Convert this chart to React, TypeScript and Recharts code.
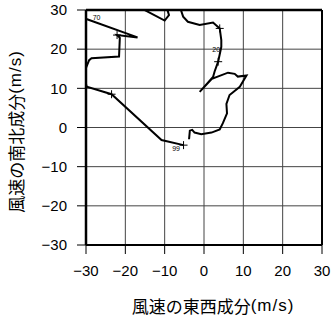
import React from 'react';
import { LineChart, Line, XAxis, YAxis, CartesianGrid, ReferenceDot, Label } from 'recharts';

// hodograph: east-west (u) and north-south (v) wind components, surface upward
const windU = [
  -5.2, -10.8, -23.5, -29.8, -30.4, -30.0, -29.2, -28.6, -21.6, -21.4, -22.1, -16.9, -29.9, -31.0,
  -31.0, -17.0, -10.0, -8.9, -9.6, -6.2, -5.3, -4.1, -1.1, 2.3, 4.0, 4.4, 4.4, 3.6, 2.7, 2.3,
  -1.1, 2.0, 6.1, 7.8, 8.6, 10.8, 9.1, 6.5, 5.7, 5.85, 4.8, 4.0, 1.9, -0.7, -2.4, -3.0, -3.6, -3.8,
];
const windV = [
  -4.5, -3.2, 8.5, 10.4, 12.5, 15.2, 17.2, 17.7, 18.1, 22.9, 23.6, 23.0, 27.7, 28.2,
  31.0, 31.0, 27.3, 28.7, 31.0, 31.0, 28.3, 27.0, 26.2, 26.8, 25.3, 22.3, 20.6, 16.8, 14.3, 12.9,
  9.1, 12.4, 14.0, 13.7, 13.0, 13.3, 10.4, 8.3, 6.0, 3.6, 1.1, -0.5, -1.3, -1.7, -1.3, -0.6, -0.8, -3.0,
];
// indices of points drawn with a "+" marker
const markedPoints = [0, 2, 10, 24, 27];

// pressure level labels (x10 hPa)
const levelNames = ['99', '70', '20'];
const levelU = [-7.1, -27.3, 3.1];
const levelV = [-5.4, 28.0, 19.8];

const axisTicks = [-30, -20, -10, 0, 10, 20, 30];

const data = windU.map((u, i) => ({ u, v: windV[i], mark: markedPoints.includes(i) }));

const fmt = (v: number) => (v < 0 ? `\u2212${Math.abs(v)}` : `${v}`);
const tickFont = { fontSize: 15, fill: '#000', fontFamily: 'Liberation Sans, Arial, sans-serif' };
const cjk = '"Noto Sans CJK JP", sans-serif';

const renderMark = (props: any) => {
  const { cx, cy, payload, index } = props;
  if (!payload.mark) return <g key={`m${index}`} />;
  return (
    <g key={`m${index}`} stroke="#000" strokeWidth={1}>
      <line x1={cx - 4} y1={cy} x2={cx + 4} y2={cy} />
      <line x1={cx} y1={cy - 4} x2={cx} y2={cy + 4} />
    </g>
  );
};

const AxisTitle = ({ viewBox, vertical }: any) => {
  const text = (
    <>
      <tspan fontFamily={cjk} fontSize={17}>{vertical ? '風速の南北成分' : '風速の東西成分'}</tspan>
      <tspan fontFamily="Liberation Sans, Arial, sans-serif" fontSize={17} letterSpacing={1}>(m/s)</tspan>
    </>
  );
  if (vertical) {
    const cx = 15;
    const cy = viewBox.y + viewBox.height / 2 + 4;
    return (
      <text x={cx} y={cy} textAnchor="middle" dominantBaseline="central" transform={`rotate(-90, ${cx}, ${cy})`}>
        {text}
      </text>
    );
  }
  return (
    <text x={viewBox.x + viewBox.width / 2 + 9} y={305} textAnchor="middle" dominantBaseline="central">
      {text}
    </text>
  );
};

export default function App() {
  return (
    <div style={{ position: 'absolute', left: 0, top: 0, background: '#fff' }}>
      <LineChart width={332} height={319} data={data} margin={{ top: 0, right: 0, left: 0, bottom: 0 }}>
        <CartesianGrid stroke="#444" strokeWidth={1} horizontalValues={axisTicks} verticalValues={axisTicks} />
        <XAxis
          type="number"
          dataKey="u"
          domain={[-30, 30]}
          ticks={axisTicks}
          allowDataOverflow
          height={74}
          tickSize={9}
          tickMargin={11}
          tickFormatter={fmt}
          tick={tickFont}
          axisLine={{ stroke: '#000', strokeWidth: 2 }}
          tickLine={{ stroke: '#000' }}
        >
          <Label content={(p: any) => <AxisTitle {...p} />} />
        </XAxis>
        <XAxis
          xAxisId="top"
          orientation="top"
          type="number"
          domain={[-30, 30]}
          ticks={axisTicks}
          height={10}
          tickSize={9}
          tick={false}
          axisLine={{ stroke: '#000', strokeWidth: 2.5 }}
          tickLine={{ stroke: '#000' }}
        />
        <YAxis
          type="number"
          domain={[-30, 30]}
          ticks={axisTicks}
          allowDataOverflow
          width={86}
          tickSize={9}
          tickMargin={10}
          tickFormatter={fmt}
          tick={tickFont}
          axisLine={{ stroke: '#000', strokeWidth: 2.5 }}
          tickLine={{ stroke: '#000' }}
        >
          <Label content={(p: any) => <AxisTitle {...p} vertical />} />
        </YAxis>
        <YAxis
          yAxisId="right"
          orientation="right"
          type="number"
          domain={[-30, 30]}
          ticks={axisTicks}
          width={10}
          tickSize={9}
          tick={false}
          axisLine={{ stroke: '#000', strokeWidth: 2 }}
          tickLine={{ stroke: '#000' }}
        />
        <Line
          dataKey="v"
          type="linear"
          stroke="#000"
          strokeWidth={2}
          dot={renderMark}
          activeDot={false}
          isAnimationActive={false}
        />
        {levelNames.map((name, i) => (
          <ReferenceDot
            key={name}
            x={levelU[i]}
            y={levelV[i]}
            r={0}
            stroke="none"
            label={{ value: name, position: 'center', fontSize: 7, fill: '#000', fontFamily: 'Liberation Sans, Arial, sans-serif' }}
          />
        ))}
      </LineChart>
    </div>
  );
}
